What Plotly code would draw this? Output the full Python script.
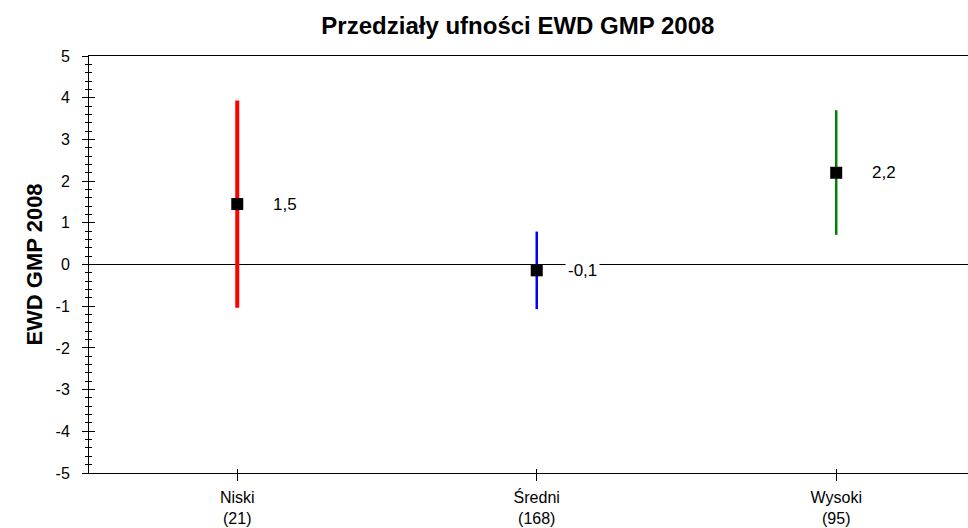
import plotly.graph_objects as go

categories = ["Niski", "Średni", "Wysoki"]
counts = [21, 168, 95]
means = [1.45, -0.14, 2.2]
lower = [-1.04, -1.07, 0.71]
upper = [3.93, 0.79, 3.70]
labels = ["1,5", "-0,1", "2,2"]
colors = ["#ff0000", "#0000ff", "#008000"]
widths = [4, 2.5, 2.5]
yticks = [-5, -4, -3, -2, -1, 0, 1, 2, 3, 4, 5]

xpos = list(range(len(categories)))
ticktext = [f"{c}<br>({n})" for c, n in zip(categories, counts)]
yticktext = [str(v) for v in yticks]

fig = go.Figure()
for i in xpos:
    fig.add_trace(go.Scatter(
        x=[xpos[i], xpos[i]], y=[lower[i], upper[i]], mode="lines",
        line=dict(color=colors[i], width=widths[i]), showlegend=False, hoverinfo="skip"))
fig.add_trace(go.Scatter(
    x=xpos, y=means, mode="markers",
    marker=dict(symbol="square", size=12, color="black"), showlegend=False))

for i in xpos:
    fig.add_annotation(x=xpos[i], y=means[i], text=labels[i], showarrow=False,
                       xanchor="left", xshift=28 if i == 1 else 33, yshift=0,
                       bgcolor="white", borderpad=2,
                       font=dict(family="Liberation Sans, Arial", size=17, color="black"))

fig.add_trace(go.Scatter(x=[None], y=[None], xaxis="x2", yaxis="y2", showlegend=False))

axfont = dict(family="Liberation Sans, Arial", size=16, color="black")
fig.update_layout(
    width=968, height=528,
    margin=dict(l=89, r=0, t=56, b=55),
    plot_bgcolor="white", paper_bgcolor="white",
    title=dict(text="<b>Przedziały ufności EWD GMP 2008</b>", x=0.535, xanchor="center",
               y=0.951, yanchor="middle",
               font=dict(family="Liberation Sans, Arial", size=24, color="black")),
    xaxis=dict(range=[-0.495, 2.44], tickvals=xpos, ticktext=ticktext,
               showline=True, linecolor="black", linewidth=1, mirror=True,
               ticks="outside", ticklen=7, tickcolor="black", ticklabelstandoff=3,
               showgrid=False, zeroline=False, tickfont=axfont),
    xaxis2=dict(range=[-0.495, 2.44], tickvals=xpos, overlaying="x", anchor="y",
                side="bottom", ticks="inside", ticklen=4, tickcolor="black",
                showticklabels=False, showgrid=False, zeroline=False, showline=False),
    yaxis=dict(range=[-5, 5], tickvals=yticks, ticktext=yticktext,
               showline=True, linecolor="black", linewidth=1,
               ticks="outside", ticklen=6, tickcolor="black", ticklabelstandoff=9,
               minor=dict(dtick=0.2, ticks="outside", ticklen=3, tickcolor="black"),
               showgrid=False, zeroline=True, zerolinecolor="black", zerolinewidth=1,
               tickfont=axfont,
               title=dict(text="<b>EWD GMP 2008</b>", standoff=6,
                          font=dict(family="Liberation Sans, Arial", size=22, color="black"))),
    yaxis2=dict(range=[-5, 5], dtick=1, overlaying="y", anchor="x", side="left",
                ticks="inside", ticklen=6, tickcolor="black",
                minor=dict(dtick=0.2, ticks="inside", ticklen=3, tickcolor="black"),
                showticklabels=False, showgrid=False, zeroline=False, showline=False),
)

fig.write_html("out.html")
